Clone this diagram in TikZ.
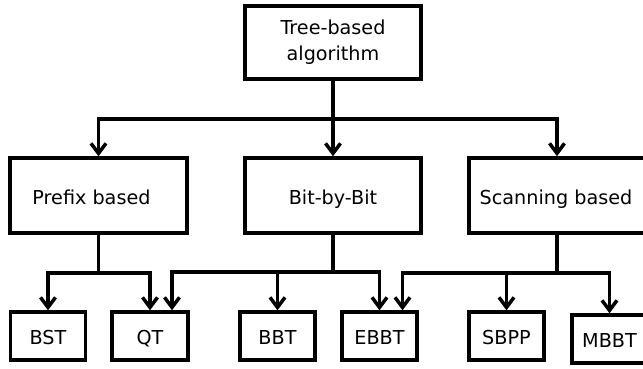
\documentclass[tikz,border=0pt]{standalone}
\usepackage{fontspec}
\setmainfont{DejaVu Sans}
\usetikzlibrary{arrows.meta}
\begin{document}
\begin{tikzpicture}[x=1pt,y=-1pt,
  box/.style={draw,line width=3.5pt,rectangle,inner sep=0pt,align=center,
    font=\fontsize{19.2}{24}\selectfont},
  oneline/.style={text height=19pt,text depth=2pt},
  topbox/.style={box,minimum width=176pt,minimum height=73pt},
  midbox/.style={box,oneline,minimum width=176pt,minimum height=75pt},
  leafbox/.style={box,oneline,minimum width=75pt,minimum height=48pt},
  wire/.style={line width=3.5pt},
  arrow/.style={wire,-{Straight Barb[length=10pt,width=15pt,line width=3.5pt]}}]
\useasboundingbox (0,0) rectangle (643,368);

% root
\node[topbox] (root) at (333,42.5) {\raisebox{-1.5pt}{\parbox{170pt}{\centering\fontsize{19.2}{26}\selectfont Tree-based\\algorithm}}};

% categories
\node[midbox,minimum width=177pt] (prefix) at (98.5,195.5) {\hspace*{-14pt}Prefix based};
\node[midbox] (bit) at (333,195.5) {Bit-by-Bit};
\node[midbox] (scan) at (557,195.5) {\hspace*{-2pt}Scanning based};

% leaves
\node[leafbox] (bst) at (48,336) {BST};
\node[leafbox,minimum width=76pt] (qt) at (150,336) {QT};
\node[leafbox] (bbt) at (277.5,336) {BBT};
\node[leafbox] (ebbt) at (379.5,336) {EBBT};
\node[leafbox] (sbpp) at (506.5,336) {SBPP};
\node[leafbox] (mbbt) at (609.5,339) {MBBT};

% root to categories
\draw[wire] (root.south) -- ++(0,38) coordinate (j0);
\draw[arrow] (j0) -| (prefix.north);
\draw[arrow] (j0) -- (bit.north);
\draw[arrow] (j0) -| (scan.north);

% prefix based
\draw[wire] (prefix.south) -- ++(0,38) coordinate (j1);
\draw[arrow] (j1) -| (bst.north);
\draw[arrow] (j1) -| (qt.north);

% bit-by-bit
\draw[wire] (bit.south) -- ++(0,37) coordinate (j2);
\draw[arrow] (j2) -| ([xshift=22pt]qt.north);
\draw[arrow] (j2) -| (bbt.north);
\draw[arrow] (j2) -| (ebbt.north);

% scanning based
\draw[wire] (scan.south) -- ++(0,38) coordinate (j3);
\draw[arrow] (j3) -| ([xshift=23pt]ebbt.north);
\draw[arrow] (j3) -| (sbpp.north);
\draw[arrow] (j3) -| (mbbt.north);
\end{tikzpicture}
\end{document}
